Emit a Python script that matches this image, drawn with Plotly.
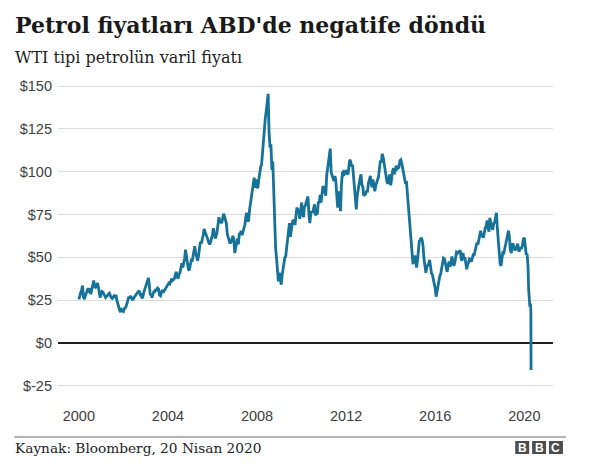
import pandas as pd
import plotly.graph_objects as go

# ---- data (semi-monthly WTI readings, US$ per barrel) ----
y2000 = [25.5, 28.5, 29.5, 31.0, 33.5, 27.0, 25.5, 27.5, 29.5, 30.0, 32.0, 30.5, 31.0, 28.5, 31.5, 33.0, 36.5, 33.0, 32.5, 33.5, 35.0, 33.0, 29.0, 26.5]
y2001 = [29.0, 30.0, 29.5, 28.0, 27.5, 26.5, 27.5, 28.0, 28.5, 29.0, 27.0, 26.5, 26.0, 27.0, 27.5, 27.0, 28.0, 25.0, 22.5, 21.5, 19.0, 18.0, 19.5, 19.0]
y2002 = [18.5, 20.0, 20.5, 21.5, 23.5, 26.0, 27.0, 26.0, 27.5, 26.0, 25.0, 26.0, 26.5, 27.5, 28.5, 29.0, 29.5, 30.5, 28.5, 29.0, 26.0, 27.0, 29.5, 31.0]
y2003 = [33.0, 34.0, 36.0, 38.0, 34.0, 28.5, 28.0, 26.5, 28.5, 30.0, 30.0, 31.5, 30.5, 32.0, 31.5, 28.0, 27.5, 30.0, 31.0, 29.5, 30.5, 31.5, 32.5, 32.5]
y2004 = [34.0, 35.0, 34.5, 35.5, 37.5, 36.5, 37.0, 37.5, 40.0, 41.5, 38.5, 37.5, 40.0, 41.0, 44.0, 46.5, 44.0, 46.0, 49.5, 54.5, 49.0, 47.5, 43.0, 42.5]
y2005 = [45.0, 48.0, 47.5, 51.0, 55.0, 56.5, 52.5, 50.5, 48.0, 50.5, 55.0, 59.0, 58.0, 60.0, 63.0, 66.5, 65.0, 64.0, 62.0, 60.5, 58.5, 57.5, 59.0, 60.5]
y2006 = [63.5, 67.0, 62.0, 61.0, 62.5, 64.5, 69.0, 73.5, 71.0, 70.5, 70.0, 72.5, 75.5, 74.0, 72.0, 70.0, 63.5, 61.5, 58.5, 58.0, 59.0, 61.5, 62.5, 61.0]
y2007 = [52.5, 55.5, 58.5, 61.0, 57.5, 63.5, 63.5, 65.5, 63.0, 64.5, 67.5, 69.0, 73.5, 76.0, 71.5, 71.0, 78.0, 81.5, 85.0, 90.0, 94.0, 96.5, 90.5, 95.5]
y2008 = [91.0, 90.5, 96.0, 100.5, 103.0, 104.0, 113.0, 118.0, 125.0, 131.0, 136.0, 140.0, 145.5, 124.0, 114.0, 116.0, 101.0, 106.0, 86.0, 68.0, 55.0, 50.0, 41.0, 36.0]
y2009 = [41.0, 37.0, 34.0, 39.5, 43.5, 48.5, 50.0, 50.5, 56.5, 62.0, 69.0, 70.0, 62.0, 66.5, 70.0, 72.0, 70.0, 69.0, 74.5, 79.0, 78.0, 77.0, 72.5, 78.5]
y2010 = [82.0, 75.5, 73.5, 79.5, 80.0, 82.0, 85.0, 85.5, 75.0, 70.0, 75.5, 77.0, 76.0, 79.0, 81.0, 74.5, 76.0, 75.0, 82.5, 81.5, 86.5, 82.0, 88.0, 91.0]
y2011 = [91.0, 87.5, 86.0, 97.5, 102.0, 104.0, 110.0, 113.5, 99.5, 98.0, 95.0, 94.5, 97.5, 95.0, 86.0, 79.0, 88.5, 80.0, 77.0, 92.0, 99.5, 100.0, 98.5, 99.0]
y2012 = [101.0, 99.0, 98.5, 103.0, 107.0, 106.0, 103.0, 104.0, 97.0, 91.0, 83.5, 78.0, 86.0, 90.0, 93.5, 96.0, 98.5, 92.5, 91.0, 86.0, 86.5, 87.0, 89.0, 88.0]
y2013 = [93.5, 96.0, 97.5, 93.0, 91.0, 95.5, 90.0, 88.5, 92.0, 94.5, 95.5, 97.0, 104.0, 106.5, 105.5, 110.5, 108.0, 104.5, 101.5, 97.0, 94.0, 93.0, 96.5, 98.5]
y2014 = [92.0, 97.0, 100.5, 102.0, 98.5, 101.0, 103.5, 101.5, 102.0, 102.5, 106.5, 107.0, 105.0, 102.5, 97.5, 95.5, 93.0, 94.5, 87.5, 82.0, 75.5, 67.5, 60.5, 54.0]
y2015 = [46.0, 48.5, 51.0, 49.5, 44.0, 48.0, 55.5, 59.5, 60.0, 61.5, 60.0, 56.5, 49.0, 45.0, 41.0, 44.5, 45.5, 46.0, 48.5, 44.5, 40.5, 40.0, 37.5, 35.5]
y2016 = [31.5, 27.0, 30.5, 32.5, 38.0, 39.0, 40.5, 44.0, 48.0, 49.5, 49.0, 46.5, 43.0, 41.5, 45.5, 47.5, 44.5, 48.0, 50.5, 47.5, 45.0, 46.5, 51.5, 53.0]
y2017 = [52.5, 53.0, 53.5, 54.0, 49.0, 48.0, 52.5, 49.0, 50.0, 47.5, 43.0, 46.0, 47.0, 49.0, 48.5, 47.5, 49.5, 51.5, 51.5, 54.0, 56.5, 58.5, 57.5, 60.0]
y2018 = [63.5, 65.5, 62.0, 62.5, 61.5, 65.5, 67.5, 68.0, 71.5, 67.0, 65.0, 73.0, 69.5, 68.0, 66.0, 69.5, 70.5, 72.5, 76.0, 67.0, 57.0, 51.0, 46.0, 45.0]
y2019 = [48.5, 53.5, 53.0, 56.0, 58.0, 60.0, 63.0, 65.5, 62.0, 54.5, 52.5, 57.5, 57.5, 56.0, 54.0, 55.0, 57.0, 58.0, 53.5, 54.0, 56.0, 55.0, 57.0, 60.5]
dates_2020 = ["2020-01-01", "2020-01-15", "2020-02-01", "2020-02-15", "2020-03-01",
              "2020-03-12", "2020-03-22", "2020-04-01", "2020-04-10", "2020-04-17", "2020-04-20"]
y2020 = [61.5, 58.0, 51.5, 52.0, 45.0, 31.0, 22.0, 21.0, 23.0, 19.0, -15.8]

tick_years = ["2000", "2004", "2008", "2012", "2016", "2020"]
y_tickvals = [150, 125, 100, 75, 50, 25, 0, -25]
y_ticktext = ["$150", "$125", "$100", "$75", "$50", "$25", "$0", "$-25"]

title_text = "Petrol fiyatları ABD'de negatife döndü"
subtitle_text = "WTI tipi petrolün varil fiyatı"
source_text = "Kaynak: Bloomberg, 20 Nisan 2020"

# ---- assemble ----
values = (y2000 + y2001 + y2002 + y2003 + y2004 + y2005 + y2006 + y2007 + y2008 + y2009 +
          y2010 + y2011 + y2012 + y2013 + y2014 + y2015 + y2016 + y2017 + y2018 + y2019 + y2020)
dates = list(pd.date_range("2000-01-01", "2019-12-16", freq="SMS")) + list(pd.to_datetime(dates_2020))

OFF = 8  # page body margin
W, H = 576, 449
ML, MR, MT, MB = 47, 31, 75, 62
PW, PH = W - ML - MR, H - MT - MB


def px(x):
    return (x - OFF - ML) / PW


def py(y):
    return (H - MB - (y - OFF)) / PH


fig = go.Figure()
fig.add_trace(go.Scatter(x=dates, y=values, mode="lines",
                         line=dict(color="#17729a", width=2.8),
                         hoverinfo="skip", showlegend=False))

fig.update_layout(
    width=W, height=H,
    margin=dict(l=ML, r=MR, t=MT, b=MB),
    paper_bgcolor="white", plot_bgcolor="white",
    font=dict(family="Liberation Sans, Arial, sans-serif", size=14, color="#404040"),
    xaxis=dict(
        range=["1999-01-24", "2021-04-15"],
        tickvals=[f"{y}-01-01" for y in tick_years],
        ticktext=tick_years,
        showgrid=False, zeroline=False, showline=False, ticks="",
        ticklabelstandoff=10,
        tickfont=dict(size=14.5, color="#404040"),
    ),
    yaxis=dict(
        range=[-30.4, 151.8],
        tickvals=y_tickvals, ticktext=y_ticktext,
        showgrid=True, gridcolor="#dcdcdc", gridwidth=1,
        zeroline=True, zerolinecolor="#222222", zerolinewidth=1.6,
        showline=False, ticks="", ticklabelstandoff=5,
        tickfont=dict(size=14.5, color="#404040"),
    ),
)

annotations = [
    dict(text=f"<b>{title_text}</b>", x=px(10), y=py(25), xref="paper", yref="paper",
         xanchor="left", yanchor="middle", showarrow=False,
         font=dict(family="DejaVu Serif", size=22, color="#1a1a1a")),
    dict(text=subtitle_text, x=px(10), y=py(57.5), xref="paper", yref="paper",
         xanchor="left", yanchor="middle", showarrow=False,
         font=dict(family="DejaVu Serif", size=16, color="#222222")),
    dict(text=source_text, x=px(10), y=py(448), xref="paper", yref="paper",
         xanchor="left", yanchor="middle", showarrow=False,
         font=dict(family="DejaVu Serif", size=13.7, color="#222222")),
]
shapes = [
    dict(type="line", xref="paper", yref="paper", x0=px(11), x1=px(566), y0=py(437), y1=py(437),
         line=dict(color="#9a9a9a", width=1.5)),
]
# BBC logo blocks
for i, letter in enumerate(["B", "B", "C"]):
    x0 = 515 + i * 17
    shapes.append(dict(type="rect", xref="paper", yref="paper",
                       x0=px(x0), x1=px(x0 + 14), y0=py(454), y1=py(441),
                       fillcolor="#4d4d4d", line=dict(width=0)))
    annotations.append(dict(text=f"<b>{letter}</b>", x=px(x0 + 7), y=py(447.5), xref="paper", yref="paper",
                            xanchor="center", yanchor="middle", showarrow=False,
                            font=dict(family="Liberation Sans", size=12, color="white")))

fig.update_layout(annotations=annotations, shapes=shapes)
fig.write_html("out.html")
